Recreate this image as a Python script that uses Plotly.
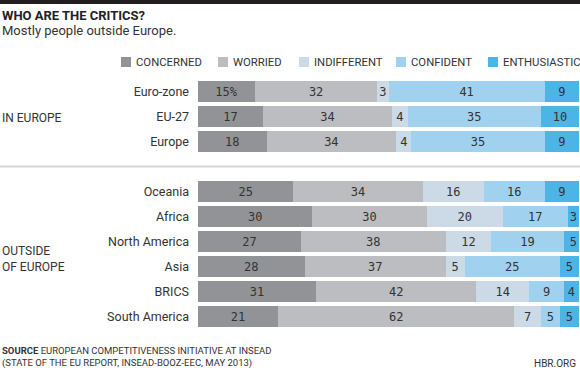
import plotly.graph_objects as go

regions = ["Euro-zone", "EU-27", "Europe", "Oceania", "Africa", "North America", "Asia", "BRICS", "South America"]
positions = [0, 1, 2, 4, 5, 6, 7, 8, 9]
series = ["CONCERNED", "WORRIED", "INDIFFERENT", "CONFIDENT", "ENTHUSIASTIC"]
concerned = [15, 17, 18, 25, 30, 27, 28, 31, 21]
worried = [32, 34, 34, 34, 30, 38, 37, 42, 62]
indifferent = [3, 4, 4, 16, 20, 12, 5, 14, 7]
confident = [41, 35, 35, 16, 17, 19, 25, 9, 5]
enthusiastic = [9, 10, 9, 9, 3, 5, 5, 4, 5]
colors = ["#929397", "#bcbdc0", "#cbdae6", "#a0d2f0", "#4db4e6"]

W, H = 580, 370
ML, MR, MT, MB = 198, 1, 79, 41
PW, PH = W - ML - MR, H - MT - MB

def px(x):
    return (x - ML) / PW

def py(y):
    return (H - MB - y) / PH

fig = go.Figure()
values = [concerned, worried, indifferent, confident, enthusiastic]
for i, (name, vals) in enumerate(zip(series, values)):
    texts = [str(v) for v in vals]
    if i == 0:
        texts[0] = f"{vals[0]}%"
    fig.add_trace(go.Bar(
        name=name, x=vals, y=positions, orientation="h",
        marker=dict(color=colors[i], line=dict(width=0)),
        width=0.84, text=texts, textposition="inside",
        insidetextanchor="middle",
        textfont=dict(family="DejaVu Sans Mono", size=12, color="#333333"),
        hoverinfo="skip", showlegend=False,
    ))

shapes = [
    dict(type="rect", xref="paper", yref="paper", x0=px(0), x1=px(W), y0=py(4), y1=py(0),
         fillcolor="#231f20", line=dict(width=0)),
    dict(type="line", xref="paper", yref="y", x0=px(0), x1=px(W), y0=3, y1=3,
         line=dict(color="#d6d6d6", width=2)),
]
legend_x = [121, 218, 299, 396, 488]
annotations = []
for name, c, lx in zip(series, colors, legend_x):
    shapes.append(dict(type="rect", xref="paper", yref="paper", x0=px(lx), x1=px(lx + 10),
                       y0=py(67), y1=py(57), fillcolor=c, line=dict(width=0)))
    annotations.append(dict(text=name, xref="paper", yref="paper", x=px(lx + 13), y=py(62.5),
                            xanchor="left", yanchor="middle", showarrow=False,
                            font=dict(family="Roboto", size=11.3, color="#333333")))

annotations += [
    dict(text="<b>WHO ARE THE CRITICS?</b>", xref="paper", yref="paper", x=px(0), y=py(15),
         xanchor="left", yanchor="middle", showarrow=False,
         font=dict(family="Roboto", size=13, color="#222222")),
    dict(text="Mostly people outside Europe.", xref="paper", yref="paper", x=px(0), y=py(30),
         xanchor="left", yanchor="middle", showarrow=False,
         font=dict(family="Roboto", size=13, color="#333333")),
    dict(text="IN EUROPE", xref="paper", yref="paper", x=px(0), y=py(117.5),
         xanchor="left", yanchor="middle", showarrow=False,
         font=dict(family="Roboto", size=12, color="#333333")),
    dict(text="OUTSIDE<br>OF EUROPE", xref="paper", yref="paper", x=px(0), y=py(258.5),
         xanchor="left", yanchor="middle", align="left", showarrow=False,
         font=dict(family="Roboto", size=12, color="#333333")),
    dict(text="<b>SOURCE</b> EUROPEAN COMPETITIVENESS INITIATIVE AT INSEAD<br>(STATE OF THE EU REPORT, INSEAD-BOOZ-EEC, MAY 2013)",
         xref="paper", yref="paper", x=px(0), y=py(357), xanchor="left", yanchor="middle",
         align="left", showarrow=False,
         font=dict(family="Roboto", size=9.5, color="#333333")),
    dict(text="HBR.ORG", xref="paper", yref="paper", x=px(578), y=py(363.5),
         xanchor="right", yanchor="middle", showarrow=False,
         font=dict(family="Roboto", size=10, color="#333333")),
]

fig.update_layout(
    barmode="stack", width=W, height=H,
    margin=dict(l=ML, r=MR, t=MT, b=MB),
    paper_bgcolor="white", plot_bgcolor="white",
    shapes=shapes, annotations=annotations,
    uniformtext=dict(minsize=12, mode="show"),
    xaxis=dict(range=[0, 100], visible=False, fixedrange=True),
    yaxis=dict(tickvals=positions, ticktext=regions, range=[9.5, -0.5],
               showgrid=False, zeroline=False, showline=False, ticks="",
               ticklabelstandoff=8, fixedrange=True,
               tickfont=dict(family="Roboto", size=12.5, color="#333333")),
)

fig.write_html("out.html", config={"displayModeBar": False},
               post_script="document.body.style.margin='0';document.body.style.overflow='hidden';")
